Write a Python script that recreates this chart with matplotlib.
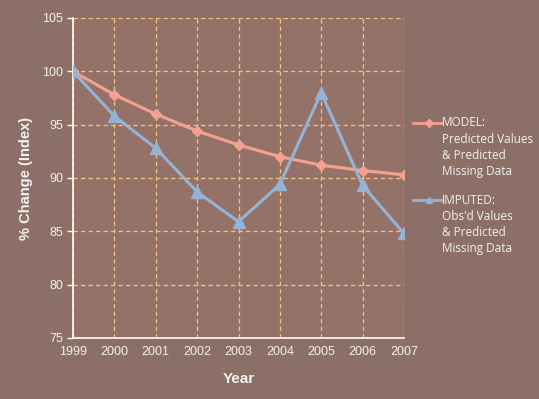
import matplotlib
matplotlib.use("Agg")
import matplotlib.pyplot as plt
from matplotlib.lines import Line2D

plt.rcParams["font.family"] = ["Liberation Sans", "DejaVu Sans"]

# Data
years = [1999, 2000, 2001, 2002, 2003, 2004, 2005, 2006, 2007]
model = [100.0, 97.8, 96.0, 94.4, 93.1, 92.0, 91.2, 90.7, 90.3]
imputed = [100.0, 95.8, 92.8, 88.7, 85.9, 89.4, 98.0, 89.3, 84.8]
y_ticks = [75, 80, 85, 90, 95, 100, 105]

model_label = ["MODEL:", "Predicted Values", "& Predicted", "Missing Data"]
imputed_label = ["IMPUTED:", "Obs'd Values", "& Predicted", "Missing Data"]

bg_outer = "#8c6f66"
bg_plot = "#957268"
grid_col = "#f7c27a"
model_col = "#f4a190"
imputed_col = "#95b3d7"
text_col = "#f2f2f2"

W, H = 539, 399
fig = plt.figure(figsize=(W / 100, H / 100), dpi=100, facecolor=bg_outer)
ax = fig.add_axes([73 / W, 1 - 338 / H, (404 - 73) / W, (338 - 18) / H])
ax.set_facecolor(bg_plot)

ax.plot(years, model, color=model_col, lw=2.2, marker="D", ms=5.5,
        mec=model_col, mfc=model_col, zorder=3)
ax.plot(years, imputed, color=imputed_col, lw=2.2, marker="^", ms=8,
        mec=imputed_col, mfc=imputed_col, zorder=4)

ax.set_xlim(years[0], years[-1])
ax.set_ylim(y_ticks[0], y_ticks[-1])
ax.set_xticks(years)
ax.set_yticks(y_ticks)
ax.grid(True, color=grid_col, ls=(0, (3.5, 2.5)), lw=0.9)
ax.set_axisbelow(True)

for s in ["top", "right"]:
    ax.spines[s].set_visible(False)
for s in ["left", "bottom"]:
    ax.spines[s].set_color("white")
    ax.spines[s].set_linewidth(1.2)

ax.tick_params(axis="y", colors="white", length=4, width=1, direction="out",
               labelcolor=text_col, labelsize=9, pad=3)
ax.tick_params(axis="x", length=0, labelcolor=text_col, labelsize=9, pad=6)

ax.set_xlabel("Year", color=text_col, fontsize=11, fontweight="bold",
              labelpad=10)
ax.set_ylabel("% Change (Index)", color=text_col, fontsize=10.5,
              fontweight="bold", labelpad=7)

# manual legend to the right
def legend_entry(y_px, color, marker, ms, lines):
    fy = 1 - y_px / H
    fig.add_artist(Line2D([413 / W, 442 / W], [fy, fy], color=color, lw=2,
                          transform=fig.transFigure))
    fig.add_artist(Line2D([429 / W], [fy], color=color, marker=marker, ms=ms,
                          mec=color, mfc=color, transform=fig.transFigure))
    for i, t in enumerate(lines):
        fig.text(442 / W, 1 - (y_px + i * 16.2) / H, t, color=text_col,
                 fontsize=8.5, family="Open Sans", va="center", ha="left")

legend_entry(123, model_col, "D", 4, model_label)
legend_entry(200, imputed_col, "^", 5, imputed_label)

fig.savefig("out.png", dpi=100, facecolor=bg_outer)
